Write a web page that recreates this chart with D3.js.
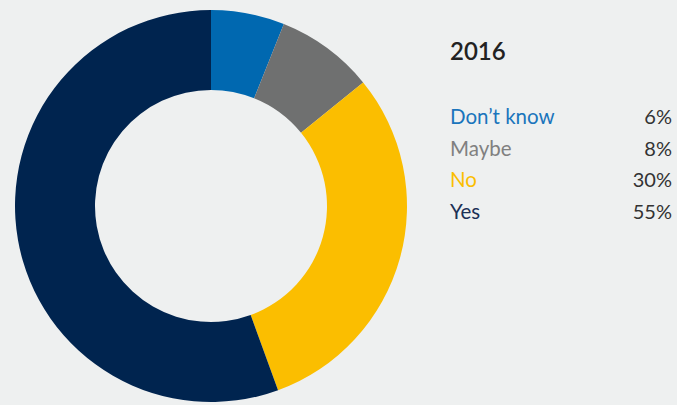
<!DOCTYPE html>
<html>
<head>
<meta charset="utf-8">
<script src="https://cdn.jsdelivr.net/npm/d3@7"></script>
<style>
  html, body { margin: 0; padding: 0; background: #eef0f0; }
  svg { display: block; }
</style>
</head>
<body>
<svg id="chart" width="677" height="405"></svg>
<script>
// Survey answers for 2016
const title = "2016";
const categories = ["Don\u2019t know", "Maybe", "No", "Yes"];
const values = [6, 8, 30, 55];
const colors = ["#0068b0", "#6f7070", "#fbbe00", "#00244f"];
const labelColors = ["#1a75bc", "#808080", "#fbbe00", "#1b3156"];

const svg = d3.select("#chart");
const font = "Lato, 'Open Sans', sans-serif";

// Donut
const cx = 211, cy = 206, outerR = 196, innerR = 116;
const pie = d3.pie().sort(null).value(d => d);
const arc = d3.arc().innerRadius(innerR).outerRadius(outerR);

svg.append("g")
  .attr("transform", `translate(${cx},${cy})`)
  .selectAll("path")
  .data(pie(values))
  .join("path")
  .attr("d", arc)
  .attr("fill", (d, i) => colors[i]);

// Legend
const legend = svg.append("g").attr("font-family", font);
legend.append("text")
  .attr("x", 450).attr("y", 60)
  .attr("font-size", 24).attr("font-weight", 600)
  .attr("fill", "#222")
  .text(title);

const rowY = d3.scalePoint().domain(categories).range([124, 219]);

legend.selectAll("text.cat")
  .data(categories)
  .join("text")
  .attr("class", "cat")
  .attr("x", 450)
  .attr("y", d => rowY(d))
  .attr("font-size", 20.5)
  .attr("fill", (d, i) => labelColors[i])
  .text(d => d);

legend.selectAll("text.val")
  .data(values)
  .join("text")
  .attr("class", "val")
  .attr("x", 672)
  .attr("y", (d, i) => rowY(categories[i]))
  .attr("text-anchor", "end")
  .attr("font-size", 20)
  .attr("fill", "#333")
  .text(d => d + "%");
</script>
</body>
</html>
